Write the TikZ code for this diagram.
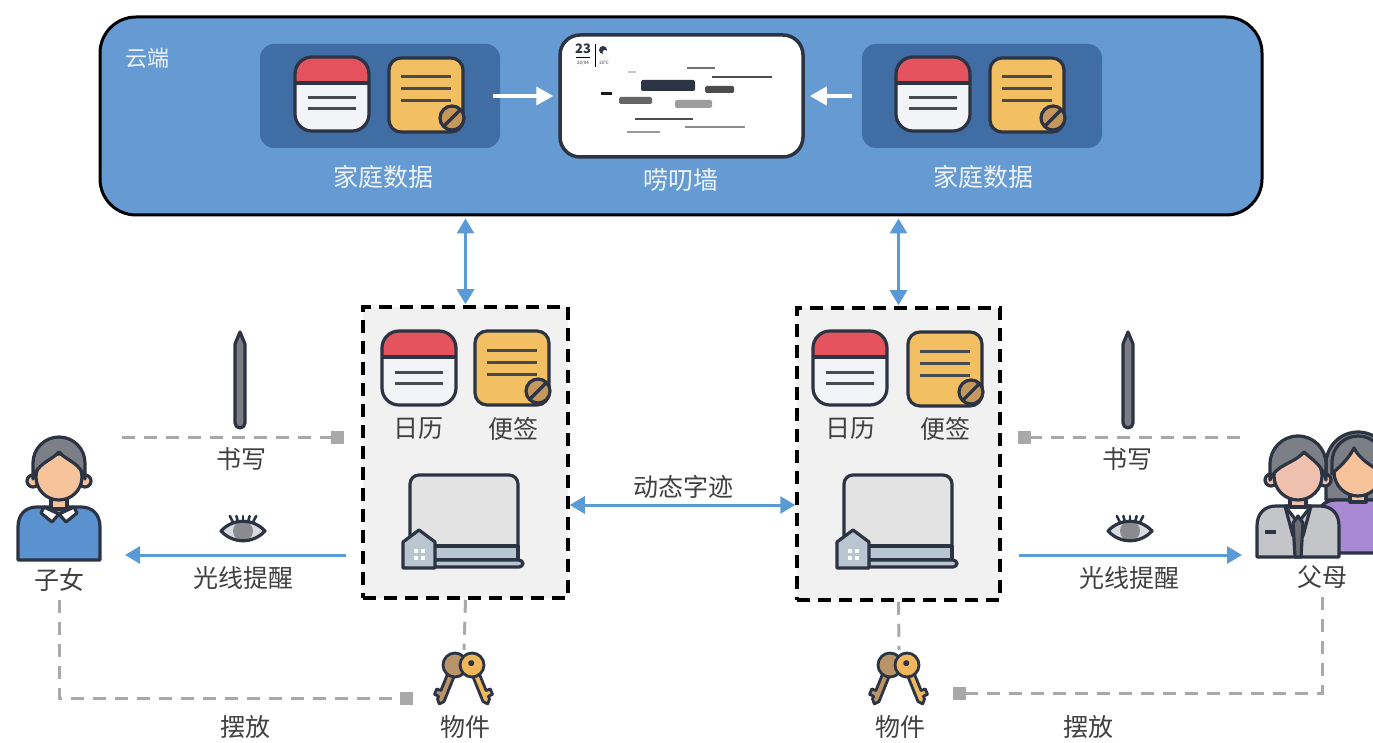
\documentclass[tikz,border=0pt]{standalone}
\usepackage{fontspec}
\setmainfont{Noto Sans CJK SC}
\usepackage{xcolor}
\usepackage{tikz}
\usetikzlibrary{arrows.meta, positioning}
\definecolor{cloudblue}{HTML}{659AD2}
\definecolor{paneldark}{HTML}{3F6DA4}
\definecolor{outline}{HTML}{2C3443}
\definecolor{stroke}{HTML}{474A50}
\definecolor{calred}{HTML}{E5535F}
\definecolor{calwhite}{HTML}{F3F4F8}
\definecolor{memoyellow}{HTML}{F2BF62}
\definecolor{memobrown}{HTML}{C4975C}
\definecolor{lineblue}{HTML}{5B9BD5}
\definecolor{dashgray}{HTML}{A9A9A9}
\definecolor{boxgray}{HTML}{F1F1F1}
\definecolor{screengray}{HTML}{E3E3E3}
\definecolor{slate}{HTML}{B9C6D2}
\definecolor{hairgray}{HTML}{7D7F86}
\definecolor{skin}{HTML}{F6C39A}
\definecolor{skinpink}{HTML}{EFC0AE}
\definecolor{shirtblue}{HTML}{5A92CF}
\definecolor{suitgray}{HTML}{C3C5C9}
\definecolor{tiegray}{HTML}{6C6E74}
\definecolor{lilac}{HTML}{A88AD4}
\definecolor{keygold}{HTML}{F0B75C}
\definecolor{keybrown}{HTML}{B99469}
\definecolor{pengray}{HTML}{7B7E84}
\definecolor{eyewhite}{HTML}{D9DADD}
\definecolor{irisgray}{HTML}{8A8B90}
\definecolor{textgray}{HTML}{404040}
\definecolor{cloudtext}{HTML}{EEF3FA}

\tikzset{
  cloudbox/.style={draw=black, line width=3pt, fill=cloudblue, rounded corners=36pt},
  datapanel/.style={fill=paneldark, rounded corners=14pt, minimum width=240pt, minimum height=104pt},
  wallbox/.style={draw=outline, line width=3.5pt, fill=white, rounded corners=20pt,
    minimum width=243pt, minimum height=122pt},
  devicebox/.style={draw=black, line width=3.5pt, dash pattern=on 13pt off 8pt, fill=boxgray},
  iconbox/.style={inner sep=0pt, outer sep=0pt},
  iconline/.style={draw=outline, line width=3.2pt, line join=round},
  innerline/.style={draw=stroke, line width=3pt},
  plaintext/.style={font=\fontsize{25}{28}\selectfont, text=textgray, inner sep=0pt},
  cloudlabel/.style={plaintext, text=cloudtext},
  bluelink/.style={draw=lineblue, line width=3pt, >={Triangle[length=15pt, width=17pt]}},
  whitelink/.style={draw=white, line width=4pt, ->, >={Triangle[length=17pt, width=18pt]}},
  graylink/.style={draw=dashgray, line width=3pt, dash pattern=on 13pt off 9pt},
  graysquare/.tip={Square[length=13pt, width=13pt]},
  % icons
  calendar/.pic={
    \begin{scope}
      \clip[rounded corners=17] (-37,-37) rectangle (37,37);
      \fill[calwhite] (-37,-37) rectangle (37,37);
      \fill[calred] (-37,-37) rectangle (37,-11);
    \end{scope}
    \draw[iconline] (-37,-11) -- (37,-11);
    \draw[iconline, rounded corners=17] (-37,-37) rectangle (37,37);
    \draw[innerline] (-24,4) -- (24,4) (-24,15) -- (24,15);
  },
  memo/.pic={
    \draw[iconline, fill=memoyellow, rounded corners=12] (-37,-37) rectangle (37,37);
    \draw[innerline] (-25,-18) -- (25,-18) (-25,-6) -- (25,-6) (-25,6) -- (25,6);
    \begin{scope}
      \clip (26,23) circle (12);
      \fill[memobrown] (26,23) circle (12);
      \draw[iconline] (15,34) -- (37,12);
    \end{scope}
    \draw[iconline] (26,23) circle (12);
  },
  board/.pic={
    \draw[iconline, fill=screengray, rounded corners=9] (-54,-45) rectangle (54,40);
    \draw[iconline, fill=slate] (-54,26) rectangle (54,40);
    \draw[iconline, fill=slate, rounded corners=4] (-31,40) rectangle (59,47);
    \draw[iconline, fill=slate] (-61,48) -- (-61,22) -- (-45,10) -- (-29,22) -- (-29,48) -- cycle;
    \foreach \dx in {-50,-43}
      \foreach \dy in {29,36}
        \fill[white] (\dx,\dy) rectangle ++(4,4);
  },
  pen/.pic={
    \draw[iconline, fill=pengray] (0,-48) -- (5,-36) -- (5,43) arc (0:180:5) -- (-5,-36) -- cycle;
  },
  eye/.pic={
    \foreach \a in {-12,-6,0,6,12}
      \draw[iconline, line cap=round, line width=2.6pt] (0.8*\a,-8) -- (1.1*\a,-15);
    \begin{scope}
      \clip (-22,0) .. controls (-10,-13) and (10,-13) .. (22,0) .. controls (10,13) and (-10,13) .. (-22,0);
      \fill[eyewhite] (-22,-13) rectangle (22,13);
      \fill[irisgray] (0,0) circle (10);
    \end{scope}
    \draw[iconline] (-22,0) .. controls (-10,-13) and (10,-13) .. (22,0) .. controls (10,13) and (-10,13) .. cycle;
  },
  keys/.pic={
    \begin{scope}[shift={(-9,-12)}, rotate=-22]
      \draw[iconline, line width=2.8pt, fill=keybrown] (3.5,8) -- (3.5,38) -- (0,42) -- (-3.5,38) -- (-3.5,35)
        -- (-8,35) -- (-8,29) -- (-3.5,29) -- (-3.5,8) -- cycle;
      \draw[iconline, line width=2.8pt, fill=keybrown] (0,0) circle (12);
    \end{scope}
    \begin{scope}[shift={(8,-12)}, rotate=22]
      \draw[iconline, line width=2.8pt, fill=keygold] (-3.5,8) -- (-3.5,38) -- (0,42) -- (3.5,38) -- (3.5,35)
        -- (8,35) -- (8,29) -- (3.5,29) -- (3.5,8) -- cycle;
      \draw[iconline, line width=2.8pt, fill=keygold] (0,0) circle (12);
      \fill[outline] (0,-2) circle (3);
    \end{scope}
  },
  child/.pic={
    \draw[iconline, fill=shirtblue] (-41,83) -- (-41,50) .. controls (-41,38) and (-34,30) .. (-22,30)
      -- (22,30) .. controls (34,30) and (41,38) .. (41,50) -- (41,83) -- cycle;
    \draw[iconline, fill=skin] (-8,16) rectangle (8,32);
    \draw[iconline, fill=white] (-15,30) -- (0,37) -- (-7,45) -- (-18,36) -- cycle;
    \draw[iconline, fill=white] (15,30) -- (0,37) -- (7,45) -- (18,36) -- cycle;
    \draw[iconline, fill=skin] (-26,4) circle (6) (26,4) circle (6);
    \draw[iconline, fill=skin] (0,0) circle (23);
    \draw[iconline, fill=hairgray] (-26,2) -- (-26,-14) arc (180:360:26) -- (26,2)
      .. controls (22,-14) and (8,-16) .. (0,-25) .. controls (-8,-16) and (-22,-14) .. cycle;
  },
  father/.pic={
    \draw[iconline, fill=suitgray] (-41,81) -- (-41,50) .. controls (-41,38) and (-34,30) .. (-22,30)
      -- (22,30) .. controls (34,30) and (41,38) .. (41,50) -- (41,81) -- cycle;
    \draw[iconline, fill=white] (-13,30) -- (0,47) -- (13,30) -- cycle;
    \draw[iconline, fill=tiegray] (0,40) -- (-5,47) -- (-3,81) -- (3,81) -- (5,47) -- cycle;
    \draw[iconline] (-13,30) -- (-5,60) (13,30) -- (5,60);
    \draw[iconline] (-33,56) -- (-22,56);
    \draw[iconline, fill=skinpink] (-8,16) rectangle (8,31);
    \draw[iconline, fill=skinpink] (-27,4) circle (6) (27,4) circle (6);
    \draw[iconline, fill=skinpink] (0,0) circle (24);
    \draw[iconline, fill=hairgray] (-28,4) -- (-28,-12) arc (180:360:28) -- (28,4)
      .. controls (24,-12) and (14,-16) .. (6,-24) .. controls (-4,-12) and (-22,-12) .. cycle;
  },
  mother/.pic={
    \draw[iconline, fill=hairgray] (-32,30) -- (-32,-6) arc (180:360:32) -- (32,30) -- cycle;
    \draw[iconline, fill=lilac] (-41,83) -- (-41,50) .. controls (-41,38) and (-34,30) .. (-22,30)
      -- (22,30) .. controls (34,30) and (41,38) .. (41,50) -- (41,83) -- cycle;
    \draw[iconline, fill=skin] (-8,16) rectangle (8,32);
    \draw[iconline, fill=skin] (0,2) circle (24);
    \draw[iconline, fill=hairgray] (-26,4) -- (-26,-8) arc (180:360:26) -- (26,4)
      .. controls (14,-4) and (2,-10) .. (-4,-22) .. controls (-10,-10) and (-18,-4) .. cycle;
  },
}

\begin{document}
\begin{tikzpicture}[x=1pt, y=-1pt]
  \useasboundingbox (0,0) rectangle (1373,743);

  % Cloud
  \node[cloudbox, minimum width=1162pt, minimum height=198pt] (cloud) at (681,116) {};
  \node[cloudlabel, font=\fontsize{22}{24}\selectfont] (cloudname) at (147,58) {云端};

  % family data, left
  \node[datapanel] (dataL) at (380,96) {};
  \pic at (332,94) {calendar};
  \pic at (426,95) {memo};
  \node[cloudlabel] (dataLname) at (383,177) {家庭数据};

  % wall
  \node[wallbox] (wall) at (681.5,96) {};
  \node[font=\bfseries\fontsize{13}{13}\selectfont, text=outline, inner sep=0pt] (day) at (583,49) {23};
  \draw[stroke, line width=0.6pt] (576,57) -- (590,57);
  \node[font=\fontsize{4.5}{5}\selectfont, text=outline, inner sep=0pt] (date) at (583,63) {20/04};
  \draw[stroke, line width=0.8pt] (595,44) -- (595,67);
  \fill[outline] (603,50) circle (4);
  \fill[white] (605,52.5) circle (2.5);
  \node[font=\fontsize{4.5}{5}\selectfont, text=outline, inner sep=0pt] (temp) at (604,63) {25℃};
  \draw[line width=2.5pt, color=black!55] (687,68) -- (715,68);
  \draw[line width=1.8pt, color=black!70] (712,77) -- (772,77);
  \draw[line width=2.5pt, color=black!22] (628,72) -- (636,72);
  \fill[outline, rounded corners=2] (641,80) rectangle (695,91);
  \fill[black!70, rounded corners=1.5] (705,86) rectangle (734,93);
  \draw[line width=3pt, color=black!90] (601,94) -- (612,94);
  \fill[black!60, rounded corners=1.5] (619,97) rectangle (652,104);
  \fill[black!38, rounded corners=1.5] (675,100) rectangle (712,108);
  \draw[line width=1.8pt, color=black!70] (635,119) -- (693,119);
  \draw[line width=1.8pt, color=black!45] (685,127) -- (745,127);
  \draw[line width=1.8pt, color=black!40] (627,132) -- (660,132);
  \node[cloudlabel] (wallname) at (681,180) {唠叨墙};

  % family data, right
  \node[datapanel] (dataR) at (982,96) {};
  \pic at (933,94) {calendar};
  \pic at (1027,95) {memo};
  \node[cloudlabel] (dataRname) at (983,177) {家庭数据};

  \draw[whitelink, shorten <=-7pt, shorten >=5pt] (dataL) -- (wall);
  \draw[whitelink, shorten <=10pt, shorten >=5pt] (dataR) -- (wall);

  % Devices
  \node[devicebox, minimum width=205pt, minimum height=291pt] (devL) at (465.5,452.5) {};
  \pic at (419,368) {calendar};
  \pic at (512,368) {memo};
  \node[plaintext] (calLname) at (418,429) {日历};
  \node[plaintext] (memoLname) at (513,429) {便签};
  \pic at (464,520) {board};

  \node[devicebox, minimum width=203pt, minimum height=292pt] (devR) at (898.5,454) {};
  \pic at (850,368) {calendar};
  \pic at (945,369) {memo};
  \node[plaintext] (calRname) at (850,429) {日历};
  \node[plaintext] (memoRname) at (945,429) {便签};
  \pic at (898,520) {board};

  \draw[bluelink, <->, shorten <=2pt, shorten >=1pt] (devL.north |- cloud.south) -- (devL.north);
  \draw[bluelink, <->, shorten <=2pt, shorten >=1pt] (devR.north |- cloud.south) -- (devR.north);

  \coordinate (dynrow) at (683,505);
  \node[plaintext] (dynname) at (683,487) {动态字迹};
  \draw[bluelink, <->] (devL.east |- dynrow) -- (devR.west |- dynrow);

  % Child side
  \node[iconbox, minimum width=82pt, minimum height=125pt] (child) at (59,497) {};
  \pic at (59,477) {child};
  \node[plaintext] (childname) at (59,580) {子女};

  \pic at (240,380) {pen};
  \coordinate (writeLrow) at (240,437);
  \node[plaintext] (writeLname) at (241,459) {书写};
  \draw[graylink, -graysquare, shorten <=22pt, shorten >=17pt] (child.east |- writeLrow) -- (devL.west |- writeLrow);

  \pic at (243,531) {eye};
  \coordinate (lightLrow) at (240,555);
  \node[plaintext] (lightLname) at (243,578) {光线提醒};
  \draw[bluelink, ->, shorten <=15pt, shorten >=25pt] (devL.west |- lightLrow) -- (child.east |- lightLrow);

  \node[iconbox, minimum width=57pt, minimum height=54pt] (keysL) at (464,677) {};
  \pic at (464,677) {keys};
  \node[plaintext] (keysLname) at (465,727) {物件};
  \draw[graylink] (devL.south) -- (keysL.north);

  \coordinate (placeL) at (413,698);
  \node[plaintext] (placeLname) at (245,727) {摆放};
  \draw[graylink, -graysquare, shorten <=8pt] (childname.south) |- (placeL);

  % Parents side
  \node[iconbox, minimum width=116pt, minimum height=124pt] (parents) at (1315,495) {};
  \pic at (1358,470) {mother};
  \pic at (1298,476) {father};
  \node[plaintext] (parentsname) at (1322,577) {父母};

  \pic at (1128,380) {pen};
  \coordinate (writeRrow) at (1128,437);
  \node[plaintext] (writeRname) at (1127,459) {书写};
  \draw[graylink, graysquare-, shorten <=16pt, shorten >=17pt] (devR.east |- writeRrow) -- (parents.west |- writeRrow);

  \pic at (1130,531) {eye};
  \coordinate (lightRrow) at (1130,555);
  \node[plaintext] (lightRname) at (1129,578) {光线提醒};
  \draw[bluelink, ->, shorten <=17pt, shorten >=15pt] (devR.east |- lightRrow) -- (parents.west |- lightRrow);

  \node[iconbox, minimum width=57pt, minimum height=54pt] (keysR) at (899,677) {};
  \pic at (899,677) {keys};
  \node[plaintext] (keysRname) at (900,727) {物件};
  \draw[graylink] (devR.south) -- (keysR.north);

  \coordinate (placeR) at (953,693);
  \node[plaintext] (placeRname) at (1088,727) {摆放};
  \draw[graylink, -graysquare, shorten <=8pt] (parentsname.south) |- (placeR);
\end{tikzpicture}
\end{document}
